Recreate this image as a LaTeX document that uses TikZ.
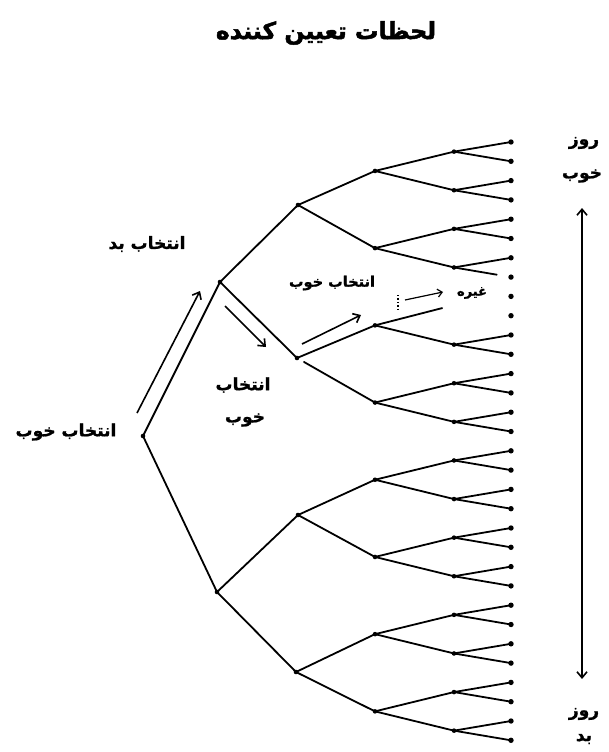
\documentclass[tikz,border=0pt]{standalone}
\usepackage{fontspec}
\usetikzlibrary{arrows.meta,calc}
\TeXXeTstate=1
\newfontfamily\fa[Script=Arabic,FakeBold=1.2]{DejaVu Sans}
\newfontfamily\fatitle[Script=Arabic,FakeBold=2]{DejaVu Sans}
\newcommand{\rtl}[1]{\beginR #1\endR}
\begin{document}
\begin{tikzpicture}[x=1pt,y=-1pt,
  edge/.style={line width=1.8pt,black,line cap=round},
  dotnode/.style={circle,fill=black,inner sep=0pt,minimum size=4.6pt},
  leafdot/.style={circle,fill=black,inner sep=0pt,minimum size=5.4pt},
  arr/.style={line width=1.6pt,-{Straight Barb[length=6pt,width=10pt]}},
  lbl/.style={font=\fa\bfseries\fontsize{17}{20}\selectfont,inner sep=0pt},
  smalllbl/.style={font=\fa\bfseries\fontsize{14.5}{17}\selectfont,inner sep=0pt},
  tinylbl/.style={font=\fa\bfseries\fontsize{13}{15}\selectfont,inner sep=0pt},
  titlelbl/.style={font=\fatitle\bfseries\fontsize{23.5}{28}\selectfont,inner sep=0pt}]
\useasboundingbox (0,0) rectangle (609,752);
\fill[white] (0,0) rectangle (609,752);

% leaves
\foreach \k in {0,...,31} \node[leafdot] (l\k) at (511,{142+19.3*\k}) {};
% level 4
\foreach \j in {0,1,2,3,5,6,7,8,9,10,11,12,13,14,15}
  \node[dotnode] (d\j) at (454,{151.65+38.6*\j}) {};
\coordinate (d4) at (454,305.05);
\foreach \j [evaluate=\j as \ka using int(2*\j), evaluate=\j as \kb using int(2*\j+1)] in {0,1,2,5,6,7,8,9,10,11,12,13,14,15} {
  \draw[edge] (d\j.center) -- (l\ka.center);
  \draw[edge] (d\j.center) -- (l\kb.center);
}
\draw[edge] (d3.center) -- (l6.center);
\draw[edge] (d3.center) -- ($(d3.center)!0.75!(l7.center)$);
% level 3
\foreach \i in {0,...,7} \node[dotnode] (c\i) at (375,{170.95+77.2*\i}) {};
\foreach \i [evaluate=\i as \ja using int(2*\i), evaluate=\i as \jb using int(2*\i+1)] in {0,1,3,4,5,6,7} {
  \draw[edge] (c\i.center) -- (d\ja.center);
  \draw[edge] (c\i.center) -- (d\jb.center);
}
\draw[edge] (c2.center) -- ($(c2.center)!0.85!(d4)$);
\draw[edge] (c2.center) -- (d5.center);
% level 2
\node[dotnode] (b0) at (298,205) {};
\node[dotnode] (b1) at (297,358) {};
\node[dotnode] (b2) at (298,515) {};
\node[dotnode] (b3) at (296,672) {};
\draw[edge] (b0.center) -- (c0.center);
\draw[edge] (b0.center) -- (c1.center);
\draw[edge] (b1.center) -- (c2.center);
\draw[edge,shorten <=8pt] (b1.center) -- (c3.center);
\draw[edge] (b2.center) -- (c4.center);
\draw[edge] (b2.center) -- (c5.center);
\draw[edge] (b3.center) -- (c6.center);
\draw[edge] (b3.center) -- (c7.center);
% level 1 and root
\node[dotnode] (a0) at (220,282) {};
\node[dotnode] (a1) at (217,592) {};
\node[dotnode] (r) at (143,436) {};
\draw[edge] (a0.center) -- (b0.center);
\draw[edge] (a0.center) -- (b1.center);
\draw[edge] (a1.center) -- (b2.center);
\draw[edge] (a1.center) -- (b3.center);
\draw[edge] (r.center) -- (a0.center);
\draw[edge] (r.center) -- (a1.center);

% arrows along the path
\coordinate (p1) at (137,413); \coordinate (p2) at (200,291);
\draw[arr] (p1) -- (p2);
\coordinate (p3) at (225,306); \coordinate (p4) at (266,347);
\draw[arr] (p3) -- (p4);
\coordinate (p5) at (302,344); \coordinate (p6) at (361,315);
\draw[arr] (p5) -- (p6);
\coordinate (q1) at (398,295); \coordinate (q2) at (398,310);
\draw[line width=1.4pt,dotted] (q1) -- (q2);
\coordinate (q3) at (405,300); \coordinate (q4) at (443,292);
\draw[line width=1.2pt,-{Straight Barb[length=4.5pt,width=8pt]}] (q3) -- (q4);

% vertical double arrow
\coordinate (v1) at (582,208); \coordinate (v2) at (582,679);
\draw[line width=1.6pt,{Straight Barb[length=6pt,width=10pt]}-{Straight Barb[length=6pt,width=10pt]}] (v1) -- (v2);

% labels
\node[titlelbl] (title) at (326,33) {\rtl{لحظات تعیین کننده}};
\node[lbl] (t1) at (147,244) {\rtl{انتخاب بد}};
\node[lbl] (t2) at (66,432) {\rtl{انتخاب خوب}};
\node[lbl] (t3a) at (243,385) {\rtl{انتخاب}};
\node[lbl] (t3b) at (245,420) {\rtl{خوب}};
\node[smalllbl] (t4) at (332,283) {\rtl{انتخاب خوب}};
\node[tinylbl] (t5) at (472,293) {\rtl{غیره}};
\node[lbl] (t6a) at (584,143) {\rtl{روز}};
\node[lbl] (t6b) at (582,176) {\rtl{خوب}};
\node[lbl] (t7a) at (584,714) {\rtl{روز}};
\node[lbl] (t7b) at (584,739) {\rtl{بد}};
\end{tikzpicture}
\end{document}
